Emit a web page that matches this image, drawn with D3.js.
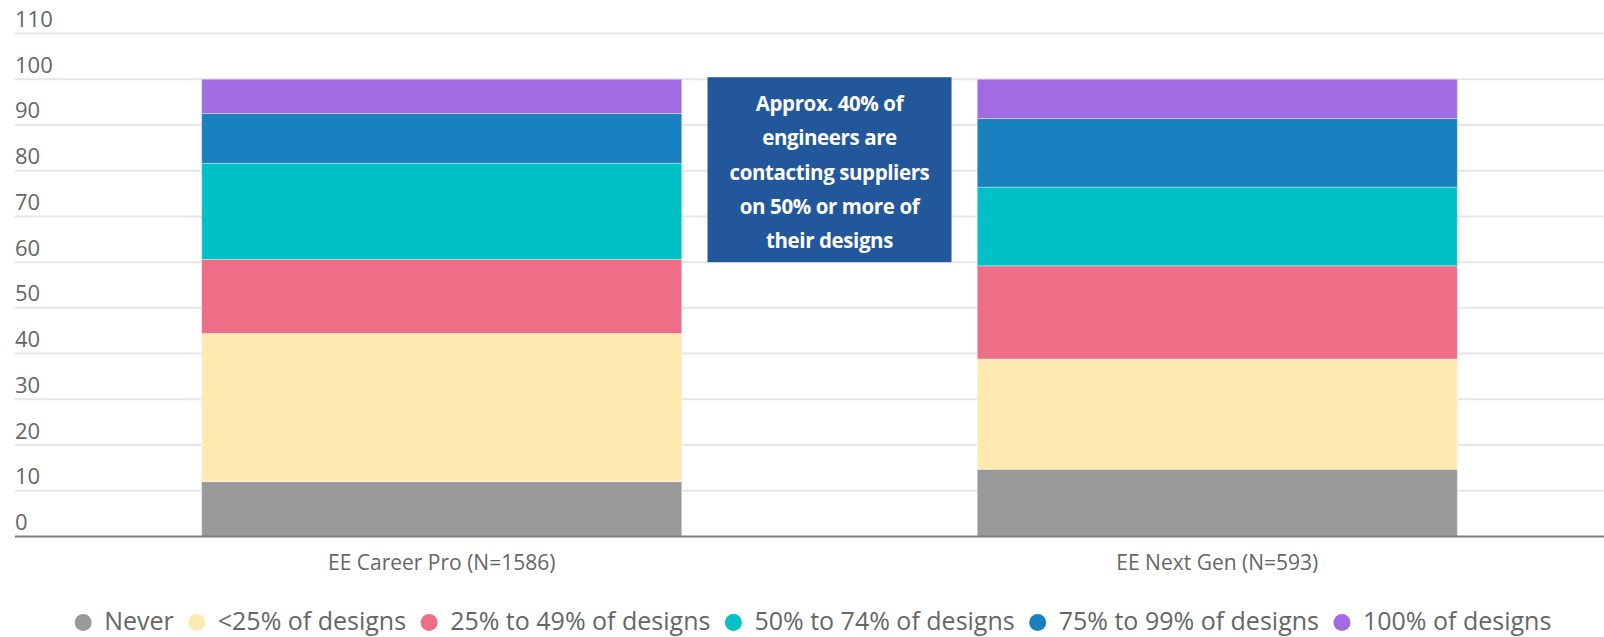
<!DOCTYPE html>
<html>
<head>
<meta charset="utf-8">
<script src="https://cdn.jsdelivr.net/npm/d3@7"></script>
<style>
  html, body { margin: 0; padding: 0; background: #fff; }
  svg { display: block; font-family: "Open Sans", "Noto Sans", sans-serif; }
</style>
</head>
<body>
<svg id="chart" width="1604" height="637"></svg>
<script>
// ---- data ----
const categories = ["EE Career Pro (N=1586)", "EE Next Gen (N=593)"];
const seriesNames = ["Never", "<25% of designs", "25% to 49% of designs", "50% to 74% of designs", "75% to 99% of designs", "100% of designs"];
const seriesColors = ["#999999", "#fee9b1", "#ef6e87", "#00c1c6", "#1a81c1", "#a06be3"];
const never      = [12.0, 14.7];
const under25    = [32.4, 24.1];
const p25to49    = [16.2, 20.4];
const p50to74    = [21.0, 17.2];
const p75to99    = [10.9, 15.0];
const p100       = [7.5, 8.6];
const yTicks = [0, 10, 20, 30, 40, 50, 60, 70, 80, 90, 100, 110];
const annotationLines = ["Approx. 40% of", "engineers are", "contacting suppliers", "on 50% or more of", "their designs"];
const annotationRange = [60, 100];

const seriesValues = [never, under25, p25to49, p50to74, p75to99, p100];

// ---- layout ----
const W = 1604, H = 637;
const svg = d3.select("#chart");

const y = d3.scaleLinear().domain([0, 110]).range([536.5, 33.5]);
const x = d3.scaleBand().domain(categories).range([15.5, 1643.5]).paddingInner(0.381).paddingOuter(0.24);

// build stack table
const table = categories.map((c, i) => {
  const row = { cat: c };
  seriesNames.forEach((s, k) => row[s] = seriesValues[k][i]);
  return row;
});
const stacked = d3.stack().keys(seriesNames)(table);

// gridlines + tick labels
const grid = svg.append("g");
yTicks.filter(t => t > 0).forEach(t => {
  grid.append("line")
    .attr("x1", 15).attr("x2", W)
    .attr("y1", y(t)).attr("y2", y(t))
    .attr("stroke", "#e6e6e6").attr("stroke-width", 2);
});
svg.append("g").selectAll("text").data(yTicks).join("text")
  .attr("x", 15)
  .attr("y", d => y(d) - 6.5)
  .attr("font-size", 22)
  .attr("fill", "#666")
  .text(d => d);

// bars
svg.append("g").selectAll("g").data(stacked).join("g")
  .attr("fill", (d, i) => seriesColors[i])
  .selectAll("rect").data(d => d).join("rect")
  .attr("x", d => x(d.data.cat))
  .attr("width", x.bandwidth())
  .attr("y", d => y(d[1]))
  .attr("height", d => y(d[0]) - y(d[1]))
  .attr("stroke", "rgba(255,255,255,0.35)")
  .attr("stroke-width", 1);

// x axis baseline
svg.append("line")
  .attr("x1", 15).attr("x2", W)
  .attr("y1", y(0)).attr("y2", y(0))
  .attr("stroke", "#7f7f7f").attr("stroke-width", 2);

// x labels
svg.append("g").selectAll("text").data(categories).join("text")
  .attr("x", d => x(d) + x.bandwidth() / 2)
  .attr("y", 569.5)
  .attr("text-anchor", "middle")
  .attr("font-size", 21)
  .attr("fill", "#666")
  .text(d => d);

// annotation box
const cx = (x(categories[0]) + x.bandwidth() / 2 + x(categories[1]) + x.bandwidth() / 2) / 2;
const boxW = 244;
const boxTop = y(annotationRange[1]) - 2;
const boxBottom = y(annotationRange[0]);
svg.append("rect")
  .attr("x", cx - boxW / 2)
  .attr("y", boxTop)
  .attr("width", boxW)
  .attr("height", boxBottom - boxTop)
  .attr("fill", "#23579b");
svg.append("g").selectAll("text").data(annotationLines).join("text")
  .attr("x", cx)
  .attr("y", (d, i) => boxTop + 33.5 + i * 34.4)
  .attr("text-anchor", "middle")
  .attr("font-size", 20.5)
  .attr("font-weight", 700)
  .attr("letter-spacing", "-0.4px")
  .attr("fill", "#fff")
  .text(d => d);

// legend
const legend = svg.append("g");
const items = legend.selectAll("g").data(seriesNames).join("g");
items.append("circle").attr("r", 8.5).attr("cy", 622.5).attr("fill", (d, i) => seriesColors[i]);
items.append("text")
  .attr("y", 630)
  .attr("font-size", 25)
  .attr("fill", "#666")
  .text(d => d);
let cursor = 0;
const positions = [];
items.each(function () {
  const tw = d3.select(this).select("text").node().getComputedTextLength();
  positions.push(cursor);
  cursor += 21 + tw + 23;
});
const totalW = cursor - 23 + 8.5;
const startX = 813 - totalW / 2 + 8.5;
items.each(function (d, i) {
  const g = d3.select(this);
  g.select("circle").attr("cx", startX + positions[i]);
  g.select("text").attr("x", startX + positions[i] + 21);
});
</script>
</body>
</html>
